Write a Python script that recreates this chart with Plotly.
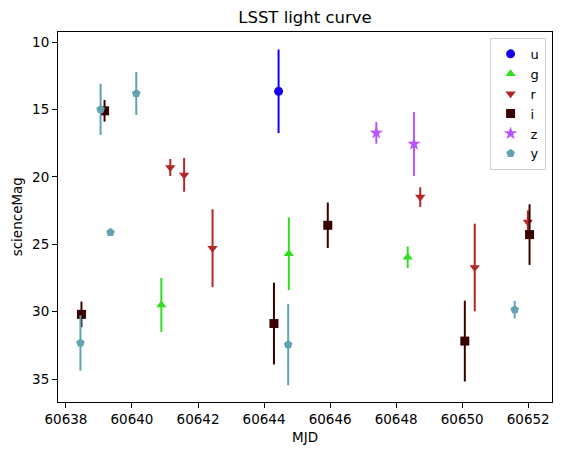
import plotly.graph_objects as go

# Light-curve data per LSST filter
bands = ['u', 'g', 'r', 'i', 'z', 'y']

u_mjd = [60644.44]
u_mag = [13.65]
u_err = [3.1]

g_mjd = [60640.89, 60644.75, 60648.35]
g_mag = [29.5, 25.7, 25.97]
g_err = [2.0, 2.7, 0.8]

r_mjd = [60641.16, 60641.58, 60642.44, 60648.73, 60650.38, 60651.99]
r_mag = [19.3, 19.85, 25.29, 21.5, 26.72, 23.35]
r_err = [0.63, 1.25, 2.89, 0.73, 3.25, 0.87]

i_mjd = [60638.47, 60639.17, 60644.30, 60645.93, 60650.08, 60652.04]
i_mag = [30.2, 15.1, 30.88, 23.59, 32.18, 24.28]
i_err = [0.95, 0.8, 3.04, 1.69, 3.0, 2.25]

z_mjd = [60647.40, 60648.54]
z_mag = [16.73, 17.56]
z_err = [0.8, 2.37]

y_mjd = [60638.44, 60639.05, 60639.35, 60640.13, 60644.73, 60651.59]
y_mag = [32.32, 14.99, 24.11, 13.81, 32.44, 29.85]
y_err = [2.05, 1.9, 0.1, 1.6, 3.02, 0.65]

x_ticks = [60638, 60640, 60642, 60644, 60646, 60648, 60650, 60652]
y_ticks = [10, 15, 20, 25, 30, 35]

dados = {
    'u': (u_mjd, u_mag, u_err),
    'g': (g_mjd, g_mag, g_err),
    'r': (r_mjd, r_mag, r_err),
    'i': (i_mjd, i_mag, i_err),
    'z': (z_mjd, z_mag, z_err),
    'y': (y_mjd, y_mag, y_err),
}

# Estilo de cada filtro
cores = {'u': '#1600ea', 'g': '#31de1f', 'r': '#b52626',
         'i': '#370201', 'z': '#ba52ff', 'y': '#61a2b3'}
simbolos = {'u': 'circle', 'g': 'triangle-up', 'r': 'triangle-down',
            'i': 'square', 'z': 'star', 'y': 'pentagon'}
tamanhos = {'u': 9, 'g': 9, 'r': 9, 'i': 9, 'z': 10, 'y': 9}

fig = go.Figure()

for b in bands:
    mjd, mag, err = dados[b]
    fig.add_trace(
        go.Scatter(
            x=mjd,
            y=mag,
            mode='markers',
            name=b,
            marker=dict(color=cores[b], symbol=simbolos[b], size=tamanhos[b],
                        line=dict(width=0)),
            error_y=dict(type='data', array=err, thickness=2, width=0,
                         color=cores[b]),
        )
    )

eixo = dict(
    showgrid=False,
    zeroline=False,
    showline=True,
    linecolor='black',
    linewidth=1.1,
    mirror=True,
    ticks='outside',
    ticklen=5,
    tickwidth=1.1,
    tickcolor='black',
    tickfont=dict(size=13.5, color='black'),
    tickformat='d',
    automargin=False,
)

# A página tem margem de 8px no body: a figura ocupa 546x439 dentro da janela
fig.update_layout(
    width=546,
    height=439,
    margin=dict(l=49.7, r=1.7, t=24, b=45.3, pad=0),
    paper_bgcolor='white',
    plot_bgcolor='white',
    font=dict(family='DejaVu Sans', color='black'),
    title=dict(text='LSST light curve', x=0.5, xref='paper', y=1 - 9 / 439,
               yref='container', xanchor='center', yanchor='middle',
               font=dict(size=16.5, color='black')),
    xaxis=dict(eixo, range=[60637.76, 60652.72], tickvals=x_ticks),
    yaxis=dict(eixo, range=[36.7, 9.25], tickvals=y_ticks),
    legend=dict(x=0.987, y=0.984, xanchor='right', yanchor='top',
                bgcolor='rgba(255,255,255,0.8)', bordercolor='#d0d0d0',
                borderwidth=1, font=dict(size=13)),
    showlegend=True,
    # Títulos dos eixos
    annotations=[
        dict(text='MJD', x=0.5, xref='paper', y=-0.0955, yref='paper',
             showarrow=False, font=dict(size=13.5), yanchor='middle'),
        dict(text='scienceMag', x=-0.0823, xref='paper', y=0.5, yref='paper',
             showarrow=False, font=dict(size=13.5), textangle=-90,
             xanchor='center'),
    ],
)

fig.write_html("out.html")
